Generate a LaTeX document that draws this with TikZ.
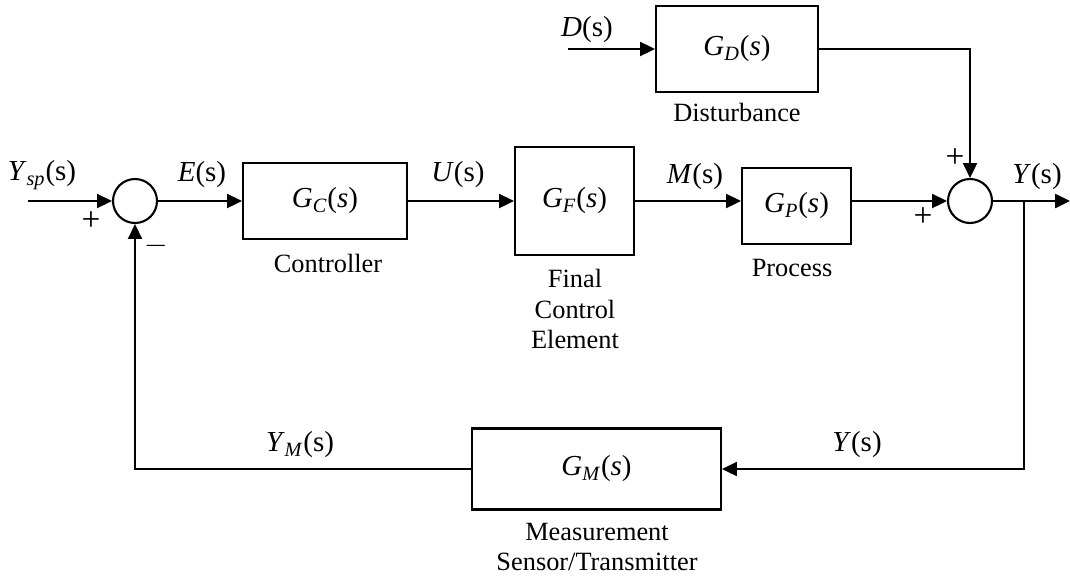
\documentclass[tikz,border=0pt]{standalone}
\usepackage{fontspec}
\setmainfont{Liberation Serif}
\usetikzlibrary{arrows.meta,positioning,calc}

% transfer functions and signals, set in the text font
\newcommand{\tfG}[1]{\textit{G}\textsubscript{\textit{#1}}(\textit{s})}
\newcommand{\sigL}[2]{\textit{#1}\textsubscript{\textit{#2}}(s)}

\begin{document}
\begin{tikzpicture}[
  x=0.02cm, y=-0.02cm,
  block/.style={draw, line width=1.2pt, inner sep=0pt, font=\fontsize{16.5}{19}\selectfont},
  sumpt/.style={draw, circle, line width=1.2pt, minimum size=0.88cm, inner sep=0pt},
  sig/.style={font=\fontsize{16.5}{19}\selectfont},
  caption/.style={font=\fontsize{15}{17.6}\selectfont, align=center},
  sgn/.style={font=\fontsize{19}{21}\selectfont},
  wire/.style={line width=1.2pt},
  link/.style={wire, -{Triangle[length=8.5pt,width=8pt]}}
]
\useasboundingbox (0,0) rectangle (1070,575);

% forward path
\node[sumpt] (s1) at (135,201) {};
\node[block, minimum width=3.28cm, minimum height=1.52cm] (gc) at (325,201) {\tfG{C}};
\node[block, minimum width=2.38cm, minimum height=2.16cm] (gf) at (574.5,201) {\tfG{F}};
\node[block, minimum width=2.18cm, minimum height=1.52cm] (gp) at (796.5,206) {\tfG{P}};
\node[sumpt] (s2) at (970,201) {};
\coordinate (yin) at (28,201);
\coordinate (yout) at (1070,201);
\coordinate (br) at (1024,201);

% disturbance
\node[block, minimum width=3.24cm, minimum height=1.72cm] (gd) at (737,49) {\tfG{D}};
\coordinate (din) at (568,49);

% feedback
\node[block, minimum width=4.98cm, minimum height=1.62cm] (gm) at (596.5,469) {\tfG{M}};
\coordinate (fbr) at (br |- gm.east);
\coordinate (fbl) at (s1 |- gm.west);

% signal labels
\node[sig] (lysp) at (42,175) {\sigL{Y}{sp}};
\node[sig] (le) at (202,175) {\textit{E}(s)};
\node[sig] (lu) at (458,175) {\textit{U}(s)};
\node[sig] (lm) at (695,177) {\textit{M}(s)};
\node[sig] (ly) at (1037,177) {\textit{Y}(s)};
\node[sig] (ld) at (587,30) {\textit{D}(s)};
\node[sig] (lyfb) at (857,445) {\textit{Y}(s)};
\node[sig] (lym) at (300,445) {\sigL{Y}{M}};

% block captions
\node[caption] (cgc) at (328,263) {Controller};
\node[caption] (cgf) at (575,309) {Final\\Control\\Element};
\node[caption] (cgp) at (792,268) {Process};
\node[caption] (cgd) at (737,112) {Disturbance};
\node[caption] (cgm) at (597,547) {Measurement\\Sensor/Transmitter};

% signs at the summing points
\node[sgn] (p1) at (91,221) {+};
\node[sgn] (m1) at (156,246) {$-$};
\node[sgn] (p2) at (955,158) {+};
\node[sgn] (p3) at (923,217) {+};

\draw[link] (yin) -- (s1.west);
\draw[link] (s1.east) -- (gc.west);
\draw[link] (gc.east) -- (gf.west);
\draw[link] (gf.east) -- (gf.east -| gp.west);
\draw[link] (s2.west -| gp.east) -- (s2.west);
\draw[link] (s2.east) -- (yout);
\draw[link] (din) -- (gd.west);
\draw[link] (gd.east) -| (s2.north);
\draw[link] (br) -- (fbr) -- (gm.east);
\draw[link] (gm.west) -- (fbl) -- (s1.south);
\end{tikzpicture}
\end{document}
